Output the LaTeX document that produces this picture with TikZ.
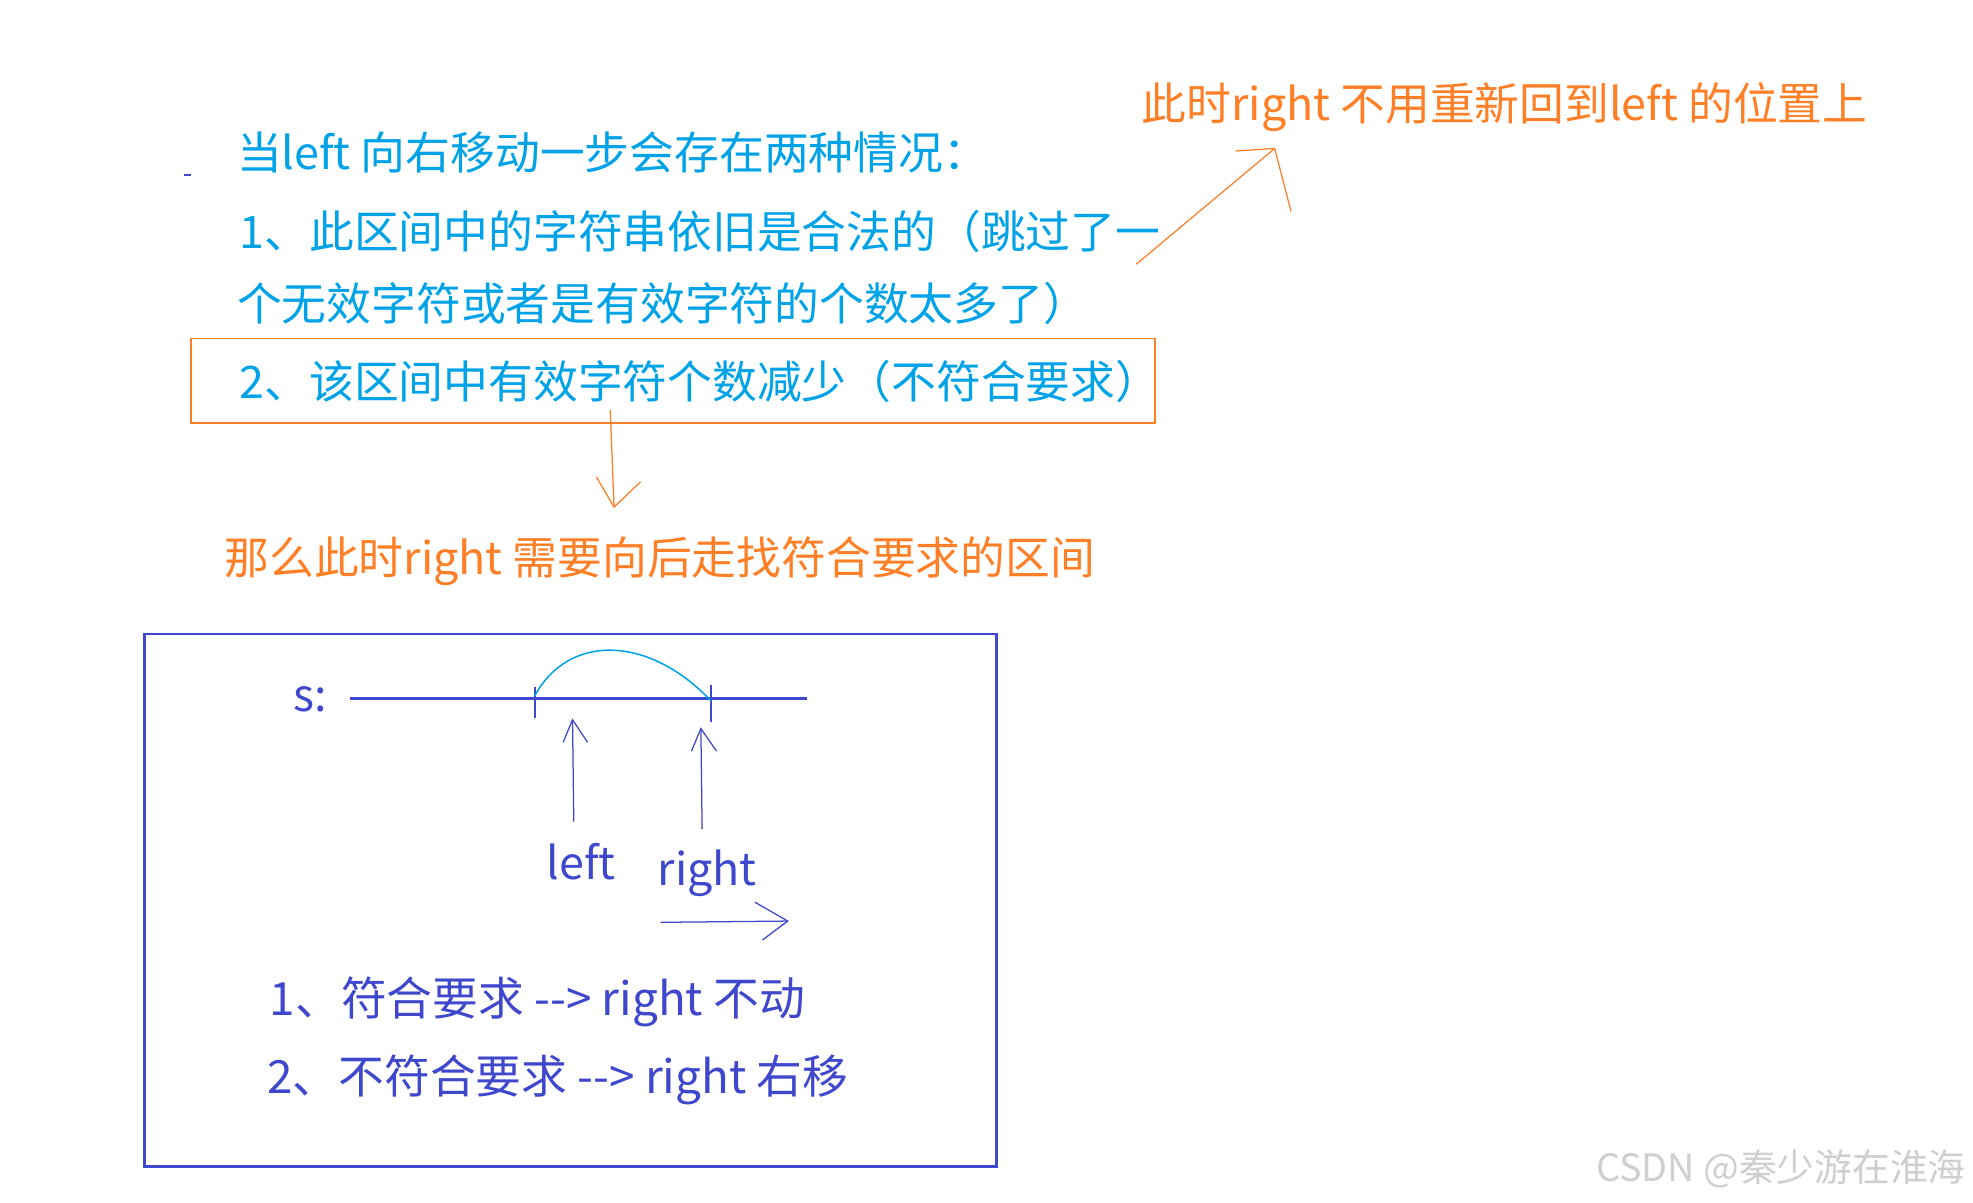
\documentclass[tikz,border=0pt]{standalone}
\usepackage{fontspec}
\newfontfamily\cjk{Noto Sans CJK SC}
\definecolor{cyanT}{HTML}{00A2E8}
\definecolor{orangeT}{HTML}{FF7F27}
\definecolor{indigoT}{HTML}{3F48CC}
\definecolor{wmark}{HTML}{CFCFCF}
\tikzset{
  txt/.style={anchor=west, inner sep=0pt, font=\cjk\fontsize{17.8pt}{20pt}\selectfont},
  cyantxt/.style={txt, text=cyanT},
  orangetxt/.style={txt, text=orangeT},
  indigotxt/.style={txt, text=indigoT},
  thinline/.style={line width=0.5pt},
}
\begin{document}
\begin{tikzpicture}[x=0.5pt,y=-0.5pt]
\useasboundingbox (0,0) rectangle (1568,956);
\fill[white] (0,0) rectangle (1568,956);

% small stray mark
\coordinate (m1) at (146,139);
\coordinate (m2) at (152,139);
\draw[indigoT, line width=0.8pt] (m1) -- (m2);

% cyan text
\node[cyantxt] (t1) at (188,121) {当left 向右移动一步会存在两种情况：};
\node[cyantxt] (t2) at (190,184) {1、此区间中的字符串依旧是合法的（跳过了一};
\node[cyantxt] (t3) at (188,241) {个无效字符或者是有效字符的个数太多了）};
\node[cyantxt] (t4) at (190,303) {2、该区间中有效字符个数减少（不符合要求）};

% orange box around t4
\coordinate (ob1) at (152,269);
\coordinate (ob2) at (918,336);
\draw[orangeT, line width=0.7pt] (ob1) rectangle (ob2);

% orange down arrow
\coordinate (d1) at (485,326);
\coordinate (d2) at (488,403);
\coordinate (dh1) at (474,379);
\coordinate (dh2) at (509,383);
\draw[orangeT, thinline] (d1) -- (d2);
\draw[orangeT, thinline] (dh1) -- (d2) -- (dh2);

\node[orangetxt] (t5) at (178,446) {那么此时right 需要向后走找符合要求的区间};
\node[orangetxt] (t6) at (907,85) {此时right 不用重新回到left 的位置上};

% orange diagonal arrow
\coordinate (a1) at (903,210);
\coordinate (a2) at (1013,118);
\coordinate (ah1) at (982,120);
\coordinate (ah2) at (1026,168);
\draw[orangeT, thinline] (a1) -- (a2);
\draw[orangeT, thinline] (ah1) -- (a2) -- (ah2);

% blue box
\coordinate (bb1) at (115,504);
\coordinate (bb2) at (792,927);
\draw[indigoT, line width=1pt] (bb1) rectangle (bb2);

\node[indigotxt] (s) at (233,556) {s:};
\coordinate (l1) at (278,555);
\coordinate (l2) at (641,555);
\draw[indigoT, line width=1pt] (l1) -- (l2);
\coordinate (k1a) at (425,546);
\coordinate (k1b) at (425,571);
\coordinate (k2a) at (565,544);
\coordinate (k2b) at (565,574);
\draw[indigoT, line width=0.8pt] (k1a) -- (k1b);
\draw[indigoT, line width=0.8pt] (k2a) -- (k2b);
\coordinate (c1) at (425,553);
\coordinate (c2) at (565,557);
\draw[cyanT, line width=0.6pt] (c1) .. controls (452,503) and (516,505) .. (c2);

% up arrows
\coordinate (ua1) at (456,653);
\coordinate (ua2) at (455,572);
\coordinate (uah1) at (447.5,590);
\coordinate (uah2) at (467,590);
\draw[indigoT, thinline] (ua1) -- (ua2);
\draw[indigoT, thinline] (uah1) -- (ua2) -- (uah2);
\coordinate (ub1) at (558,659);
\coordinate (ub2) at (557,579);
\coordinate (ubh1) at (549.5,597);
\coordinate (ubh2) at (569.5,597);
\draw[indigoT, thinline] (ub1) -- (ub2);
\draw[indigoT, thinline] (ubh1) -- (ub2) -- (ubh2);

\node[indigotxt, anchor=center] (lefttxt) at (462,685) {left};
\node[indigotxt, anchor=center] (righttxt) at (562,694) {right};

% right arrow
\coordinate (r1) at (525,733);
\coordinate (r2) at (626,732);
\coordinate (rh1) at (600,717);
\coordinate (rh2) at (606,747);
\draw[indigoT, thinline] (r1) -- (r2);
\draw[indigoT, thinline] (rh1) -- (r2) -- (rh2);

\node[indigotxt, font=\cjk\fontsize{18.2pt}{20pt}\selectfont] (b1) at (214,796) {1、符合要求 -{}-> right 不动};
\node[indigotxt, font=\cjk\fontsize{18.2pt}{20pt}\selectfont] (b2) at (212,858) {2、不符合要求 -{}-> right 右移};

% watermark
\node[anchor=west, inner sep=0pt, text=wmark, font=\cjk\fontsize{15pt}{17pt}\selectfont] (wm) at (1268,929) {CSDN @秦少游在淮海};
\end{tikzpicture}
\end{document}
